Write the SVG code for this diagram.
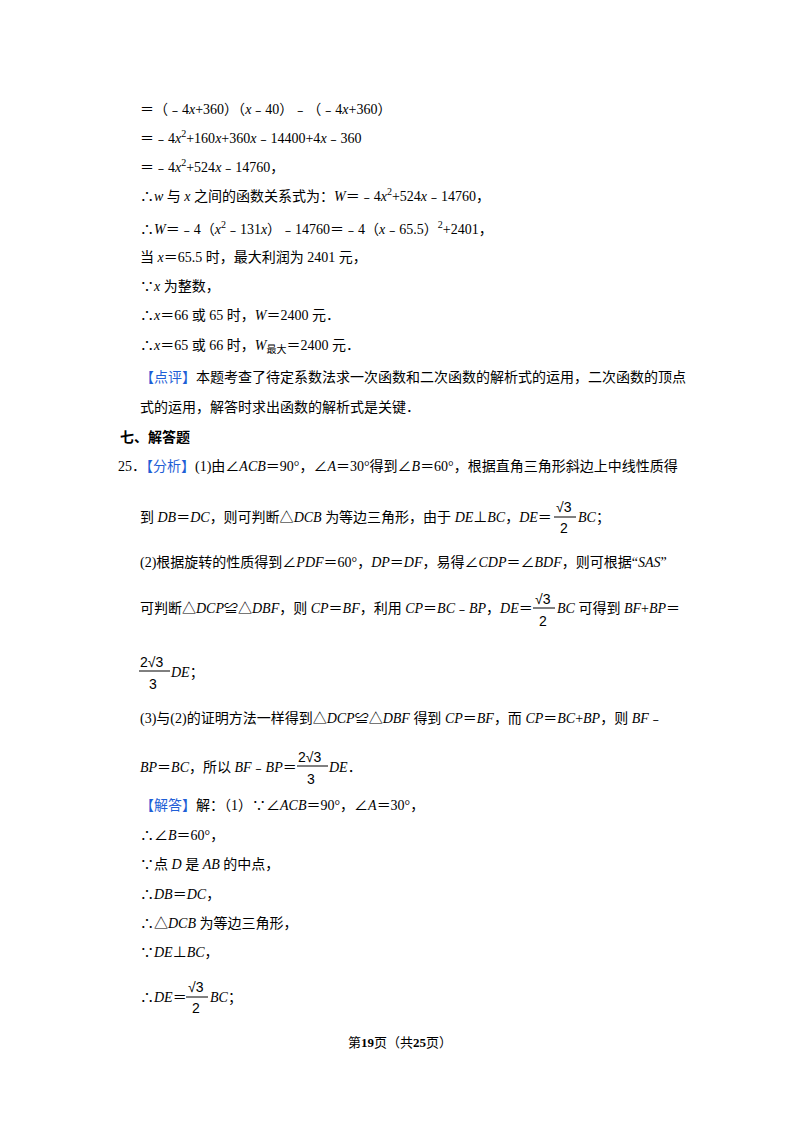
<svg xmlns="http://www.w3.org/2000/svg" width="800" height="1132" viewBox="0 0 800 1132">
<style>
text{font-family:"Liberation Serif","Noto Sans CJK SC",serif;font-size:14px;fill:#000}
.i{font-style:italic}
.b{fill:#1f5fd6}
.bold{font-weight:bold}
.s{font-size:10px}
.fr{font-family:"Liberation Sans","Noto Sans CJK SC",sans-serif;font-size:14px}
</style>
<rect width="800" height="1132" fill="#fff"/>
<g id="text">
<text x="140" y="114">＝（﹣4<tspan class="i">x</tspan>+360）（<tspan class="i">x</tspan>﹣40）﹣（﹣4<tspan class="i">x</tspan>+360）</text>
<text x="140" y="143">＝﹣4<tspan class="i">x</tspan><tspan class="s" dy="-6">2</tspan><tspan dy="6">+160</tspan><tspan class="i">x</tspan>+360<tspan class="i">x</tspan>﹣14400+4<tspan class="i">x</tspan>﹣360</text>
<text x="140" y="172">＝﹣4<tspan class="i">x</tspan><tspan class="s" dy="-6">2</tspan><tspan dy="6">+524</tspan><tspan class="i">x</tspan>﹣14760，</text>
<text x="140" y="201">∴<tspan class="i">w</tspan> 与 <tspan class="i">x</tspan> 之间的函数关系式为：<tspan class="i">W</tspan>＝﹣4<tspan class="i">x</tspan><tspan class="s" dy="-6">2</tspan><tspan dy="6">+524</tspan><tspan class="i">x</tspan>﹣14760，</text>
<text x="140" y="234">∴<tspan class="i">W</tspan>＝﹣4（<tspan class="i">x</tspan><tspan class="s" dy="-6">2</tspan><tspan dy="6">﹣131</tspan><tspan class="i">x</tspan>）﹣14760＝﹣4（<tspan class="i">x</tspan>﹣65.5）<tspan class="s" dy="-6">2</tspan><tspan dy="6">+2401，</tspan></text>
<text x="140" y="262">当 <tspan class="i">x</tspan>＝65.5 时，最大利润为 2401 元，</text>
<text x="140" y="291">∵<tspan class="i">x</tspan> 为整数，</text>
<text x="140" y="320">∴<tspan class="i">x</tspan>＝66 或 65 时，<tspan class="i">W</tspan>＝2400 元．</text>
<text x="140" y="350">∴<tspan class="i">x</tspan>＝65 或 66 时，<tspan class="i">W</tspan><tspan class="s" dy="3">最大</tspan><tspan dy="-3">＝2400 元．</tspan></text>
<text x="140" y="382"><tspan class="b">【点评】</tspan>本题考查了待定系数法求一次函数和二次函数的解析式的运用，二次函数的顶点</text>
<text x="140" y="412">式的运用，解答时求出函数的解析式是关键．</text>
<text x="120" y="442" class="bold">七、解答题</text>
<text x="118" y="471">25．<tspan class="b">【分析】</tspan>(1)由∠<tspan class="i">ACB</tspan>＝90°，∠<tspan class="i">A</tspan>＝30°得到∠<tspan class="i">B</tspan>＝60°，根据直角三角形斜边上中线性质得</text>
<text x="140" y="522">到 <tspan class="i">DB</tspan>＝<tspan class="i">DC</tspan>，则可判断△<tspan class="i">DCB</tspan> 为等边三角形，由于 <tspan class="i">DE</tspan>⊥<tspan class="i">BC</tspan>，<tspan class="i">DE</tspan>＝</text>
<text x="140" y="567">(2)根据旋转的性质得到∠<tspan class="i">PDF</tspan>＝60°，<tspan class="i">DP</tspan>＝<tspan class="i">DF</tspan>，易得∠<tspan class="i">CDP</tspan>＝∠<tspan class="i">BDF</tspan>，则可根据“<tspan class="i">SAS</tspan>”</text>
<text x="140" y="613">可判断△<tspan class="i">DCP</tspan>≌△<tspan class="i">DBF</tspan>，则 <tspan class="i">CP</tspan>＝<tspan class="i">BF</tspan>，利用 <tspan class="i">CP</tspan>＝<tspan class="i">BC</tspan>﹣<tspan class="i">BP</tspan>，<tspan class="i">DE</tspan>＝</text>
<text x="140" y="723">(3)与(2)的证明方法一样得到△<tspan class="i">DCP</tspan>≌△<tspan class="i">DBF</tspan> 得到 <tspan class="i">CP</tspan>＝<tspan class="i">BF</tspan>，而 <tspan class="i">CP</tspan>＝<tspan class="i">BC</tspan>+<tspan class="i">BP</tspan>，则 <tspan class="i">BF</tspan>﹣</text>
<text x="140" y="772"><tspan class="i">BP</tspan>＝<tspan class="i">BC</tspan>，所以 <tspan class="i">BF</tspan>﹣<tspan class="i">BP</tspan>＝</text>
<text x="140" y="810"><tspan class="b">【解答】</tspan>解：（1）∵∠<tspan class="i">ACB</tspan>＝90°，∠<tspan class="i">A</tspan>＝30°，</text>
<text x="140" y="840">∴∠<tspan class="i">B</tspan>＝60°，</text>
<text x="140" y="869">∵点 <tspan class="i">D</tspan> 是 <tspan class="i">AB</tspan> 的中点，</text>
<text x="140" y="899">∴<tspan class="i">DB</tspan>＝<tspan class="i">DC</tspan>，</text>
<text x="140" y="928">∴△<tspan class="i">DCB</tspan> 为等边三角形，</text>
<text x="140" y="957">∵<tspan class="i">DE</tspan>⊥<tspan class="i">BC</tspan>，</text>
<text x="140" y="1002">∴<tspan class="i">DE</tspan>＝</text>
<text x="400" y="1047" text-anchor="middle" style="font-size:13px">第<tspan class="bold">19</tspan>页（共<tspan class="bold">25</tspan>页）</text>
</g>
<g id="fractions">
<g transform="translate(552,0)">
<text x="4" y="512" class="fr">√3</text><line x1="2" y1="517" x2="24" y2="517" stroke="#000"/><text x="8" y="533" class="fr">2</text>
<text x="26" y="522"><tspan class="i">BC</tspan>；</text></g>
<g transform="translate(531,0)">
<text x="4" y="604" class="fr">√3</text><line x1="2" y1="608" x2="24" y2="608" stroke="#000"/><text x="8" y="626" class="fr">2</text>
<text x="26" y="613"><tspan class="i">BC</tspan> 可得到 <tspan class="i">BF</tspan>+<tspan class="i">BP</tspan>＝</text></g>
<g transform="translate(138,0)">
<text x="2" y="667" class="fr">2√3</text><line x1="1" y1="671" x2="32" y2="671" stroke="#000"/><text x="11" y="689" class="fr">3</text>
<text x="33" y="677"><tspan class="i">DE</tspan>；</text></g>
<g transform="translate(296,0)">
<text x="2" y="762" class="fr">2√3</text><line x1="1" y1="766" x2="32" y2="766" stroke="#000"/><text x="11" y="784" class="fr">3</text>
<text x="33" y="772"><tspan class="i">DE</tspan>．</text></g>
<g transform="translate(184,0)">
<text x="4" y="992" class="fr">√3</text><line x1="2" y1="997" x2="24" y2="997" stroke="#000"/><text x="8" y="1013" class="fr">2</text>
<text x="26" y="1002"><tspan class="i">BC</tspan>；</text></g>
</g>
</svg>
